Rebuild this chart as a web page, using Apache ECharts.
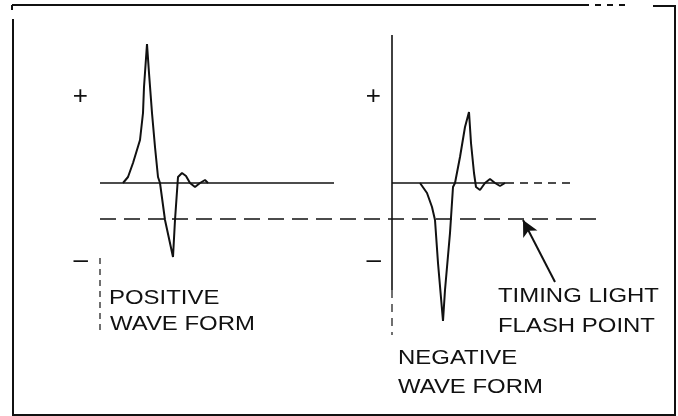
<!DOCTYPE html>
<html>
<head>
<meta charset="utf-8">
<script src="https://cdn.jsdelivr.net/npm/echarts@6/dist/echarts.min.js"></script>
<style>
html,body{margin:0;padding:0;background:#fff;}
#chart{width:678px;height:416px;}
</style>
</head>
<body>
<div id="chart"></div>
<script>
// ---- data (time units, voltage units; baseline = 0) ----
var posTime = [11.5, 14, 16.5, 20, 21.5, 22, 23.5, 24.5, 26, 27.5, 29, 30, 32.5, 36.5, 37.5, 39, 41, 43, 45, 47.5, 50, 52.5, 54];
var posVolt = [0, 0.6, 2.0, 4.3, 7.0, 9.6, 13.9, 11.0, 7.0, 3.6, 0.6, 0, -3.7, -7.4, -3.7, 0.6, 1.0, 0.7, 0, -0.4, 0, 0.3, 0];
var negTime = [14, 17.5, 20, 21.5, 23, 25.5, 26.5, 29, 30.5, 31.5, 34, 36.5, 38.5, 39.5, 41, 42, 44, 46.5, 49, 51.5, 54, 56.5];
var negVolt = [0, -1.0, -2.4, -3.7, -8.0, -13.8, -10.7, -5.0, -0.4, 0, 2.6, 5.6, 7.1, 4.0, 1.0, -0.4, -0.7, 0, 0.4, 0, -0.3, 0];
var posBaselineEnd = 117;
var negBaselineSolidEnd = 57;
var negBaselineDottedEnd = 89;
var flashLevel = -3.6;
var flashLineEnd = 251;
var polarityTicks = [8.6, -7.8];
var polarityLabels = ['+', '\u2013'];
var posAxisSpan = [-7.5, -15.2];
var negAxisSolid = [14.8, -10.7];
var negAxisDashed = [-10.7, -15.2];
var arrowTail = [81.5, -9.9];
var arrowTip = [65.5, -3.7];
var texts = {
  pos: ['POSITIVE', 'WAVE FORM'],
  neg: ['NEGATIVE', 'WAVE FORM'],
  flash: ['TIMING LIGHT', 'FLASH POINT']
};

function zip(a, b) { return a.map(function (v, i) { return [v, b[i]]; }); }

var chart = echarts.init(document.getElementById('chart'), null, {renderer: 'canvas'});
var black = '#111';
var lw = 2;

function yAx(idx, margin) {
  return {
    gridIndex: idx, type: 'value', min: -15, max: 15,
    axisLine: {show: false}, axisTick: {show: false}, splitLine: {show: false},
    axisLabel: {
      customValues: polarityTicks, margin: margin, color: black,
      fontFamily: 'Liberation Sans', fontSize: 26,
      formatter: function (v) { return v > 0 ? polarityLabels[0] : polarityLabels[1]; }
    }
  };
}
function xAx(idx, max) {
  return {gridIndex: idx, type: 'value', min: 0, max: max, show: false};
}
function seg(idx, data, dashed, w) {
  return {
    type: 'line', xAxisIndex: idx, yAxisIndex: idx, data: data, symbol: 'none',
    clip: false, silent: true, animation: false,
    lineStyle: {color: black, width: w || lw, type: dashed ? dashed : 'solid'}
  };
}

var textStyleBase = {fill: black, font: '21px "Liberation Sans", Arial, sans-serif', textVerticalAlign: 'middle'};
function txt(str, x, y) {
  return {type: 'text', x: x, y: y, scaleX: 1.14, style: Object.assign({text: str}, textStyleBase)};
}

var option = {
  backgroundColor: '#fff',
  animation: false,
  grid: [
    {left: 100, top: 33, width: 520, height: 300},
    {left: 392, top: 33, width: 240, height: 300}
  ],
  xAxis: [xAx(0, 260), xAx(1, 120)],
  yAxis: [yAx(0, 12), yAx(1, 11)],
  series: [
    seg(0, zip(posTime, posVolt), false, 2),
    seg(0, [[0, 0], [posBaselineEnd, 0]], false, 1.6),
    seg(0, [[0, flashLevel], [flashLineEnd, flashLevel]], [16, 8], 1.6),
    seg(0, [[0, posAxisSpan[0]], [0, posAxisSpan[1]]], [6, 5], 1.2),
    Object.assign(seg(1, zip(negTime, negVolt), false, 2), {
      markLine: {
        silent: true, symbol: ['none', 'arrow'], symbolSize: [12, 16],
        label: {show: false},
        lineStyle: {color: black, width: 2, type: 'solid'},
        data: [[{coord: arrowTail}, {coord: arrowTip}]]
      }
    }),
    seg(1, [[0, 0], [negBaselineSolidEnd, 0]], false, 1.6),
    seg(1, [[negBaselineSolidEnd, 0], [negBaselineDottedEnd, 0]], [8, 6], 1.4),
    seg(1, [[0, negAxisSolid[0]], [0, negAxisSolid[1]]], false, 1.6),
    seg(1, [[0, negAxisDashed[0]], [0, negAxisDashed[1]]], [8, 6], 1.2)
  ],
  graphic: [
    // frame
    {type: 'polyline', shape: {points: [[12, 5], [583, 5]]}, style: {stroke: black, lineWidth: 2}},
    {type: 'polyline', shape: {points: [[583, 5], [627, 5]]}, style: {stroke: black, lineWidth: 2, lineDash: [6, 6]}},
    {type: 'polyline', shape: {points: [[653, 6], [675, 6], [675, 415], [13, 415], [13, 19]]}, style: {stroke: black, lineWidth: 2, fill: null}},
    {type: 'polyline', shape: {points: [[12, 5], [12, 10]]}, style: {stroke: black, lineWidth: 2}},
    // annotations
    txt(texts.pos[0], 109, 298),
    txt(texts.pos[1], 110, 324),
    txt(texts.flash[0], 498, 296),
    txt(texts.flash[1], 498, 326),
    txt(texts.neg[0], 398, 358),
    txt(texts.neg[1], 398, 387)
  ]
};
chart.setOption(option);
</script>
</body>
</html>
